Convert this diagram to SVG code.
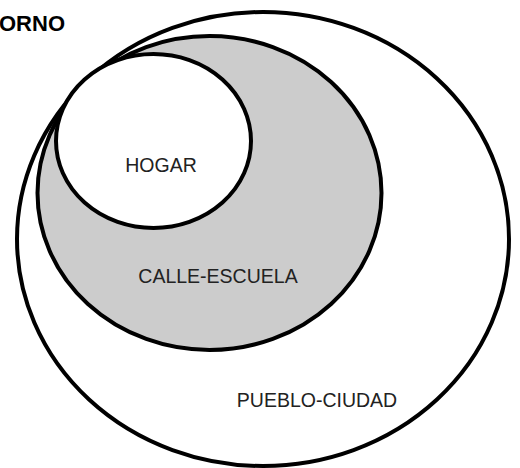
<svg xmlns="http://www.w3.org/2000/svg" width="520" height="468" viewBox="0 0 520 468">
<style>
.e{stroke:#000;stroke-width:4}
.t{font-family:"Liberation Sans",Arial,sans-serif;font-size:19.5px;fill:#222;text-anchor:middle}
.b{font-family:"Liberation Sans",Arial,sans-serif;font-size:22px;font-weight:bold;fill:#000}
</style>
<rect width="520" height="468" fill="#fff"/>
<g id="pueblo"><ellipse class="e" cx="263" cy="239" rx="246" ry="227" fill="#fff"/><text class="t" x="317" y="407">PUEBLO-CIUDAD</text></g>
<g id="calle"><ellipse class="e" cx="209.5" cy="193" rx="172" ry="157" fill="#ccc"/><text class="t" x="218" y="283">CALLE-ESCUELA</text></g>
<g id="hogar"><ellipse class="e" cx="153.5" cy="141" rx="97.5" ry="87" fill="#fff"/><text class="t" x="161" y="172">HOGAR</text></g>
<text class="b" x="-1" y="31">ORNO</text>
<g id="connectors"/>
</svg>
